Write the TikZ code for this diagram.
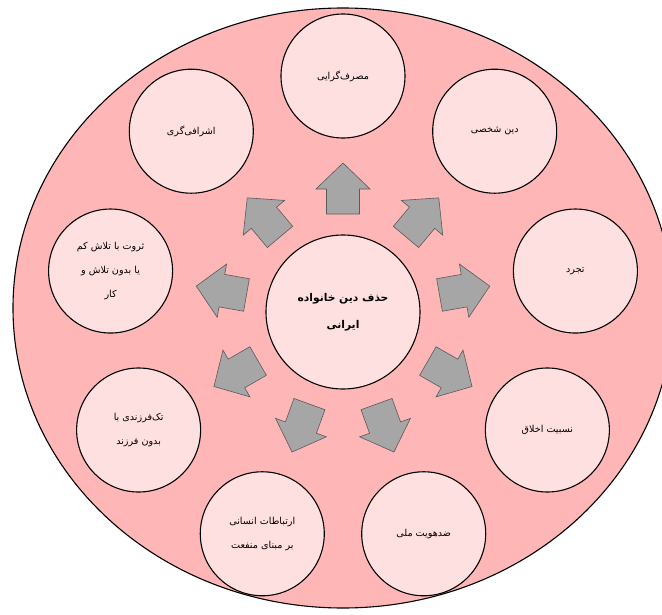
\documentclass[tikz,border=0pt]{standalone}
\usepackage{fontspec}
\usepackage{xcolor}
\TeXXeTstate=1
\newfontfamily\persianfont[Script=Arabic]{DejaVu Sans}
\definecolor{bgpink}{HTML}{FFB6B6}
\definecolor{cellpink}{HTML}{FFE0E1}
\definecolor{spokegray}{HTML}{A6A6A6}
\definecolor{spokeedge}{HTML}{5A5A5A}

\begin{document}
\begin{tikzpicture}[x=1pt,y=1pt,
    main/.style = {draw, circle, line width=1.1pt, fill=cellpink, minimum size=124pt, inner sep=0pt,
      align=center, font=\persianfont\fontsize{9.6}{24}\selectfont},
    spoke/.pic = {\draw[fill=spokegray, draw=spokeedge, line width=0.6pt]
      (98,-16.5) -- (123,-16.5) -- (123,-27) -- (149,0) -- (123,27) -- (123,16.5) -- (98,16.5) -- cycle;}]
        \useasboundingbox (-343,-302) rectangle (319,312);
        \draw[fill=bgpink, line width=1.1pt] (0,4) ellipse [x radius=330pt, y radius=300pt];

        \node[main, minimum size=154pt, font=\persianfont\bfseries\fontsize{10.7}{27}\selectfont](0) at (0,0)
          {\beginR حذف دین خانواده\endR\\\beginR ایرانی\endR};
        \node[main](1) at (90:236pt){\beginR مصرف‌گرایی\endR};
        \node[main](2) at (50:236pt){\beginR دین شخصی\endR};
        \node[main](3) at (10:236pt){\beginR تجرد\endR};
        \node[main](4) at (-30:236pt){\beginR نسبیت اخلاق\endR};
        \node[main](5) at (-70:236pt){\beginR ضدهویت ملی\endR};
        \node[main](6) at (-110:236pt){\beginR ارتباطات انسانی\endR\\\beginR بر مبنای منفعت\endR};
        \node[main](7) at (-150:236pt){\beginR تک‌فرزندی با\endR\\\beginR بدون فرزند\endR};
        \node[main](8) at (170:236pt){\beginR ثروت با تلاش کم\endR\\\beginR یا بدون تلاش و\endR\\\beginR کار\endR};
        \node[main](9) at (130:236pt){\beginR اشرافی‌گری\endR};

        \pic[rotate=90] at (0) {spoke};
        \pic[rotate=50] at (0) {spoke};
        \pic[rotate=10] at (0) {spoke};
        \pic[rotate=-30] at (0) {spoke};
        \pic[rotate=-70] at (0) {spoke};
        \pic[rotate=-110] at (0) {spoke};
        \pic[rotate=-150] at (0) {spoke};
        \pic[rotate=170] at (0) {spoke};
        \pic[rotate=130] at (0) {spoke};
      \end{tikzpicture}
\end{document}
